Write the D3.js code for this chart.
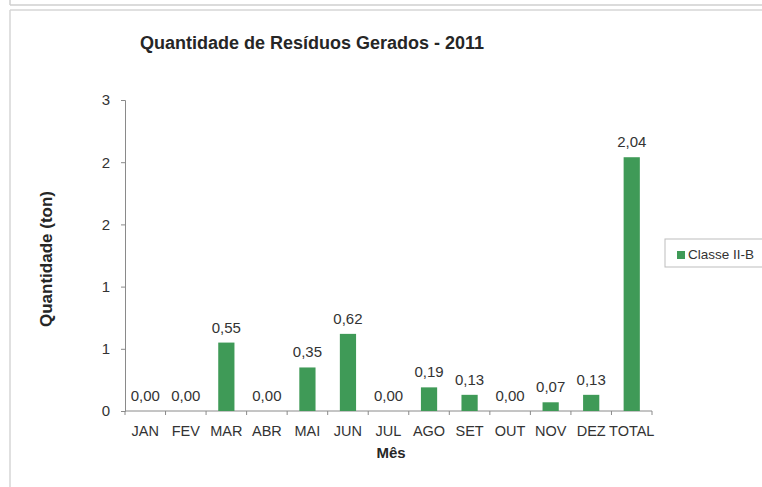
<!DOCTYPE html>
<html>
<head>
<meta charset="utf-8">
<script src="https://cdn.jsdelivr.net/npm/d3@7"></script>
<style>
  body { margin: 0; background: #fff; }
  svg text { font-family: "Liberation Sans", Arial, sans-serif; }
</style>
</head>
<body>
<div id="chart"></div>
<script>
// dados do gráfico
var meses = ["JAN", "FEV", "MAR", "ABR", "MAI", "JUN", "JUL", "AGO", "SET", "OUT", "NOV", "DEZ", "TOTAL"];
var classeIIB = [0.00, 0.00, 0.55, 0.00, 0.35, 0.62, 0.00, 0.19, 0.13, 0.00, 0.07, 0.13, 2.04];
var yTicks = [0, 0.5, 1, 1.5, 2, 2.5];
var yTickLabels = ["0", "1", "1", "2", "2", "3"];
var serieNome = "Classe II-B";

var width = 762, height = 487;
var plotLeft = 125, plotRight = 652, plotTop = 100, plotBottom = 411;
var verde = "#3f9a57";
var eixoCor = "#8a8a8a";

var svg = d3.select("#chart").append("svg")
    .attr("width", width)
    .attr("height", height);

// moldura
svg.append("line").attr("x1", 10).attr("x2", width).attr("y1", 5).attr("y2", 5)
    .attr("stroke", "#cfcfcf").attr("stroke-width", 1.5);
svg.append("line").attr("x1", 10).attr("x2", 10).attr("y1", 0).attr("y2", 5)
    .attr("stroke", "#cfcfcf").attr("stroke-width", 1.5);
svg.append("line").attr("x1", 10).attr("x2", width).attr("y1", 10).attr("y2", 10)
    .attr("stroke", "#d6d6d6").attr("stroke-width", 1.5);
svg.append("line").attr("x1", 10).attr("x2", 10).attr("y1", 10).attr("y2", height)
    .attr("stroke", "#d6d6d6").attr("stroke-width", 1.5);

var pt = d3.formatLocale({decimal: ",", thousands: ".", grouping: [3], currency: ["R$", ""]});
var fmt = pt.format(".2f");

var x = d3.scaleBand()
    .domain(meses)
    .range([plotLeft, plotRight])
    .paddingInner(0.6)
    .paddingOuter(0.3);

var y = d3.scaleLinear()
    .domain([0, 2.5])
    .range([plotBottom, plotTop]);

// eixo Y
var yAxis = d3.axisLeft(y)
    .tickValues(yTicks)
    .tickFormat(function(d, i) { return yTickLabels[i]; })
    .tickSize(4)
    .tickPadding(11);

var gy = svg.append("g")
    .attr("transform", "translate(" + plotLeft + ",0)")
    .call(yAxis);
gy.select(".domain").attr("stroke", eixoCor);
gy.selectAll(".tick line").attr("stroke", eixoCor);
gy.selectAll(".tick text").attr("font-size", 15).attr("fill", "#333")
    .attr("font-family", "Liberation Sans, Arial, sans-serif");

// eixo X com marcas nas divisões
var step = (plotRight - plotLeft) / meses.length;
var gx = svg.append("g")
    .attr("transform", "translate(0," + plotBottom + ")");
gx.append("line").attr("x1", plotLeft).attr("x2", plotRight).attr("y1", 0).attr("y2", 0)
    .attr("stroke", eixoCor);
gx.selectAll(".sep")
    .data(d3.range(meses.length + 1))
    .enter().append("line")
    .attr("x1", function(i) { return plotLeft + i * step; })
    .attr("x2", function(i) { return plotLeft + i * step; })
    .attr("y1", 0).attr("y2", 4)
    .attr("stroke", eixoCor);
gx.selectAll(".lbl")
    .data(meses)
    .enter().append("text")
    .attr("x", function(d) { return x(d) + x.bandwidth() / 2; })
    .attr("y", 25)
    .attr("text-anchor", "middle")
    .attr("font-size", 14.5)
    .attr("fill", "#333")
    .text(function(d) { return d; });

// barras
svg.selectAll(".bar")
    .data(classeIIB)
    .enter().append("rect")
    .attr("x", function(d, i) { return x(meses[i]); })
    .attr("y", function(d) { return y(d); })
    .attr("width", x.bandwidth())
    .attr("height", function(d) { return plotBottom - y(d); })
    .attr("fill", verde);

// rótulos dos valores
svg.selectAll(".val")
    .data(classeIIB)
    .enter().append("text")
    .attr("x", function(d, i) { return x(meses[i]) + x.bandwidth() / 2; })
    .attr("y", function(d) { return y(d) - 10; })
    .attr("text-anchor", "middle")
    .attr("font-size", 15)
    .attr("fill", "#333")
    .text(function(d) { return fmt(d); });

// título
svg.append("text")
    .attr("x", 140).attr("y", 49)
    .attr("font-size", 18)
    .attr("font-weight", "bold")
    .attr("fill", "#262626")
    .text("Quantidade de Resíduos Gerados - 2011");

// títulos dos eixos
svg.append("text")
    .attr("transform", "translate(52,259) rotate(-90)")
    .attr("text-anchor", "middle")
    .attr("font-size", 17)
    .attr("font-weight", "bold")
    .attr("fill", "#262626")
    .text("Quantidade (ton)");

svg.append("text")
    .attr("x", 391).attr("y", 458)
    .attr("text-anchor", "middle")
    .attr("font-size", 15)
    .attr("font-weight", "bold")
    .attr("fill", "#262626")
    .text("Mês");

// legenda
var lg = svg.append("g").attr("transform", "translate(665,239)");
lg.append("rect").attr("width", 110).attr("height", 28)
    .attr("fill", "#fff").attr("stroke", "#bdbdbd");
lg.append("rect").attr("x", 12).attr("y", 12).attr("width", 8).attr("height", 8)
    .attr("fill", verde);
lg.append("text").attr("x", 23).attr("y", 20)
    .attr("font-size", 13.5).attr("fill", "#333")
    .text(serieNome);
</script>
</body>
</html>
